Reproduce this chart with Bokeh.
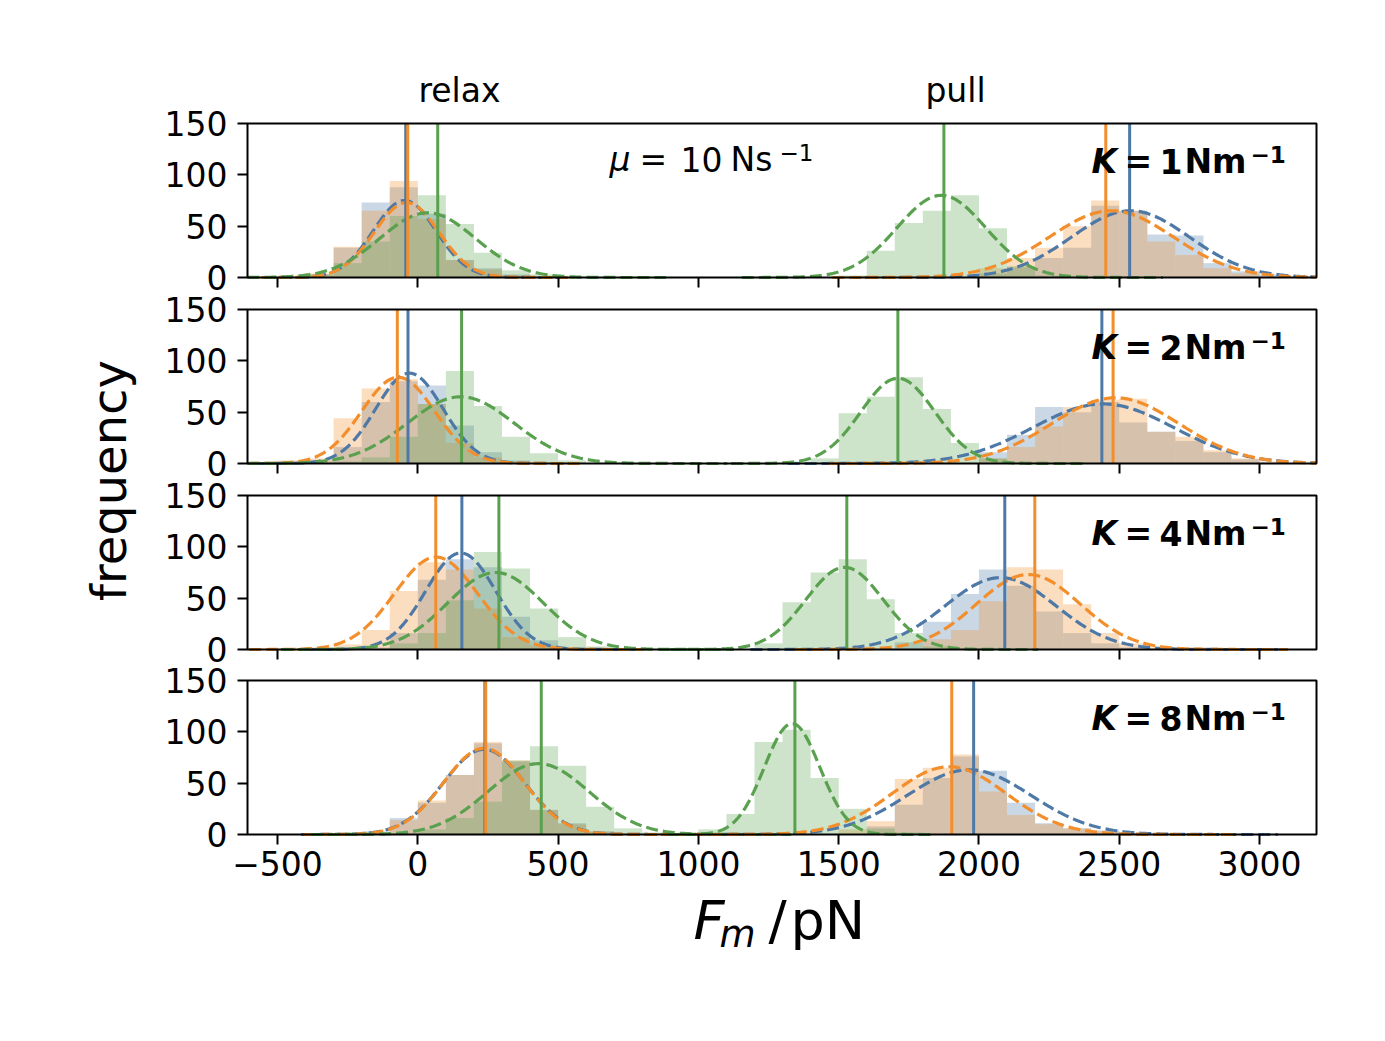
import numpy as np
from bokeh.plotting import figure
from bokeh.models import Range1d, FixedTicker, LinearAxis
from bokeh.core.properties import value
from bokeh.embed import file_html
from bokeh.resources import INLINE

# ---------------- data ----------------
K_VALUES = [1, 2, 4, 8]
SERIES_COLORS = ["#4e79a7", "#f28e2b", "#59a14f"]   # blue, orange, green
X_TICKS = [-500, 0, 500, 1000, 1500, 2000, 2500, 3000]
Y_TICKS = [0, 50, 100, 150]
BIN_WIDTH = 100

# histograms: (left edge of first bin, counts) for blue, orange, green
HIST_K1_RELAX = [(-400, [3, 29, 73, 88, 62, 17, 9, 3]),
                 (-400, [4, 30, 65, 94, 57, 17, 8, 2]),
                 (-400, [3, 14, 35, 60, 80, 52, 24, 7, 3])]
HIST_K1_PULL = [(2000, [4, 10, 19, 29, 70, 65, 42, 41, 14, 6, 3]),
                (2000, [9, 19, 29, 50, 75, 65, 35, 22, 9, 4]),
                (1500, [2, 26, 53, 65, 80, 48, 11, 2])]
HIST_K2_RELAX = [(-500, [1, 3, 16, 60, 80, 76, 37, 11, 3]),
                 (-500, [3, 5, 44, 73, 82, 58, 20, 6, 2]),
                 (-300, [2, 6, 26, 58, 90, 56, 26, 10, 3])]
HIST_K2_PULL = [(2000, [11, 28, 55, 50, 60, 40, 31, 22, 11, 4]),
                (2000, [5, 16, 36, 55, 62, 63, 31, 26, 13, 5, 2]),
                (1300, [2, 5, 49, 65, 84, 53, 20, 5, 1])]
HIST_K4_RELAX = [(-200, [2, 16, 68, 88, 80, 32, 9, 2]),
                 (-400, [2, 5, 19, 57, 85, 78, 40, 12, 4]),
                 (-100, [6, 16, 48, 95, 79, 40, 12, 3])]
HIST_K4_PULL = [(1700, [7, 27, 54, 78, 62, 37, 16, 6, 2]),
                (1800, [10, 19, 47, 80, 78, 44, 16, 6, 2]),
                (1200, [6, 46, 75, 88, 49, 16, 3])]
HIST_K8_RELAX = [(-200, [3, 16, 31, 58, 89, 71, 24, 11, 3]),
                 (-200, [2, 14, 33, 58, 90, 72, 24, 10, 3]),
                 (0, [5, 16, 32, 72, 86, 67, 27, 6, 2])]
HIST_K8_PULL = [(1600, [8, 29, 55, 76, 62, 31, 11, 6, 4, 2]),
                (1500, [5, 13, 54, 65, 78, 42, 19, 10, 6, 3]),
                (1000, [5, 20, 90, 102, 55, 25, 6, 2])]
HISTS = [(HIST_K1_RELAX, HIST_K1_PULL), (HIST_K2_RELAX, HIST_K2_PULL),
         (HIST_K4_RELAX, HIST_K4_PULL), (HIST_K8_RELAX, HIST_K8_PULL)]

# gaussian fits per panel (rows K=1,2,4,8), columns blue, orange, green
FIT_MEAN_RELAX = [[-47, -40, 35], [-30, -70, 153], [153, 65, 277], [236, 236, 430]]
FIT_SIGMA_RELAX = [[112, 115, 170], [120, 130, 190], [125, 148, 170], [145, 143, 180]]
FIT_AMP_RELAX = [[75, 73, 63], [88, 84, 65], [94, 90, 75], [83, 84, 69]]
FIT_MEAN_PULL = [[2540, 2472, 1866], [2443, 2486, 1711], [2077, 2176, 1521], [1965, 1894, 1334]]
FIT_SIGMA_PULL = [[210, 221, 158], [250, 227, 132], [198, 185, 138], [220, 203, 99]]
FIT_AMP_PULL = [[65, 65, 80], [58, 64, 83], [70, 73, 80], [63, 66, 108]]

# vertical marker lines (blue, orange, green)
VLINE_RELAX = [[-43, -36, 71], [-35, -73, 156], [157, 64, 289], [239, 242, 440]]
VLINE_PULL = [[2537, 2452, 1875], [2438, 2478, 1711], [2092, 2199, 1529], [1981, 1903, 1344]]

# ---------------- layout (page pixels) ----------------
FONT = "DejaVu Sans"
W, H = 1380, 1036
XMIN, XMAX = -607, 3203          # panel x limits
PANEL_LEFT, PANEL_W = 247, 1069
PANEL_TOPS = [123, 309, 495, 680]
PANEL_H = 154
YMAX = 150
MID = 0.35                       # em offset between alphabetic baseline and middle

UPX = (XMAX - XMIN) / PANEL_W    # data units per pixel along x
x_range = Range1d(XMIN - PANEL_LEFT * UPX, XMIN + (W - PANEL_LEFT) * UPX)


def xd(px):
    return XMIN + (px - PANEL_LEFT) * UPX


def ypx(page_y):
    return H - page_y


p = figure(width=W, height=H, x_range=x_range, y_range=Range1d(0, H),
           x_axis_location=None, y_axis_location=None, output_backend="svg",
           toolbar_location=None, min_border=0)
p.grid.visible = False
p.outline_line_color = None

upy = YMAX / PANEL_H
p.extra_y_ranges = {
    f"p{i}": Range1d(-(H - (top + PANEL_H)) * upy, YMAX + top * upy)
    for i, top in enumerate(PANEL_TOPS)
}


def put_text(t, x, y, size, style="normal", align="left", angle=0.0):
    p.text(x=[x], y=[y], text=[t], text_font=value(FONT), text_font_size=f"{size}px",
           text_font_style=style, text_align=align, text_baseline="middle",
           angle=angle, text_color="black")


def style_axis(ax):
    ax.major_tick_line_width = 2
    ax.major_tick_out = 10
    ax.major_tick_in = 0
    ax.minor_tick_out = 0
    ax.minor_tick_in = 0
    ax.major_label_text_font = FONT
    ax.major_label_text_font_size = "33px"
    ax.major_label_text_color = "black"
    ax.axis_line_color = None


for i, K in enumerate(K_VALUES):
    rn = f"p{i}"
    last = i == len(K_VALUES) - 1

    # histograms
    for phase in HISTS[i]:
        for c, (start, counts) in zip(SERIES_COLORS, phase):
            left = [start + BIN_WIDTH * j for j in range(len(counts))]
            right = [l + BIN_WIDTH for l in left]
            p.quad(left=left, right=right, top=counts, bottom=0, fill_color=c,
                   fill_alpha=0.3, line_color=None, y_range_name=rn)

    # gaussian fits
    for means, sigmas, amps in ((FIT_MEAN_RELAX, FIT_SIGMA_RELAX, FIT_AMP_RELAX),
                                (FIT_MEAN_PULL, FIT_SIGMA_PULL, FIT_AMP_PULL)):
        for c, m, s, a in zip(SERIES_COLORS, means[i], sigmas[i], amps[i]):
            xs = np.linspace(max(XMIN, m - 4.5 * s), min(XMAX, m + 5 * s), 300)
            ys = a * np.exp(-0.5 * ((xs - m) / s) ** 2)
            p.line(xs, ys, line_color=c, line_width=3.2, line_dash="12 5", y_range_name=rn)

    # vertical markers spanning the panel
    for lines in (VLINE_RELAX, VLINE_PULL):
        p.segment(x0=lines[i], y0=[0] * 3, x1=lines[i], y1=[YMAX] * 3,
                  line_color=SERIES_COLORS, line_width=3, y_range_name=rn)

    # panel frame
    p.quad(left=[XMIN], right=[XMAX], bottom=[0], top=[YMAX], fill_color=None,
           line_color="black", line_width=2, y_range_name=rn)

    # axes of this panel
    yax = LinearAxis(y_range_name=rn, ticker=FixedTicker(ticks=Y_TICKS), fixed_location=XMIN)
    style_axis(yax)
    yax.major_label_standoff = 10
    p.add_layout(yax, "left")

    xax = LinearAxis(y_range_name=rn, ticker=FixedTicker(ticks=X_TICKS), fixed_location=0)
    style_axis(xax)
    if last:
        xax.major_label_standoff = 6
        xax.major_label_overrides = {t: str(t).replace("-", "\u2212") for t in X_TICKS}
    else:
        xax.major_label_text_color = None
    p.add_layout(xax, "below")

    # K label (baseline 49.7 px below panel top, superscript 39 px)
    top = PANEL_TOPS[i]
    main_y = ypx(top + 49.7 - MID * 33)
    sup_y = ypx(top + 39 - MID * 23)
    for t, px, st, size, yy in (("K", 1091, "bold italic", 33, main_y),
                                ("=", 1124, "bold", 33, main_y),
                                (str(K), 1159, "bold", 33, main_y),
                                ("Nm", 1184, "bold", 33, main_y),
                                ("\u22121", 1250, "bold", 23, sup_y)):
        put_text(t, xd(px), yy, size, st)

    if i == 0:
        mu_y = ypx(top + 48 - MID * 33)
        mu_sup = ypx(top + 37 - MID * 23)
        for t, px, st, size, yy in (("\u03bc", 609, "italic", 33, mu_y),
                                    ("=", 639, "normal", 33, mu_y),
                                    ("10", 680, "normal", 33, mu_y),
                                    ("Ns", 730, "normal", 33, mu_y),
                                    ("\u22121", 779, "normal", 23, mu_sup)):
            put_text(t, xd(px), yy, size, st)

# "relax" / "pull" above the first panel
for t, px in (("relax", 459), ("pull", 955)):
    put_text(t, xd(px), ypx(102 - MID * 33), 33, align="center")

# x label  F_m / pN
for t, px, st, size, base in (("F", 693, "italic", 54, 939),
                              ("m", 719, "italic", 37, 947),
                              ("/", 768, "normal", 54, 939),
                              ("pN", 790, "normal", 54, 939)):
    put_text(t, xd(px), ypx(base - MID * size), size, st)

# y label
put_text("frequency", xd(108), ypx(480), 48, align="center", angle=np.pi / 2)

open("out.html", "w").write(file_html(p, INLINE))
